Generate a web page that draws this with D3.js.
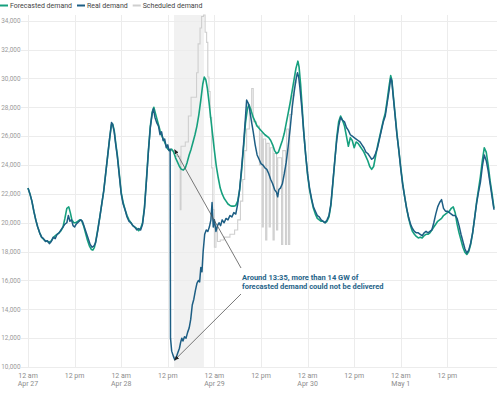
<!DOCTYPE html>
<html>
<head>
<meta charset="utf-8">
<script src="https://cdn.jsdelivr.net/npm/d3@7"></script>
<style>
  body { margin: 0; background: #fff; font-family: Roboto, "Open Sans", sans-serif; }
  svg text { font-family: Roboto, sans-serif; }
</style>
</head>
<body>
<svg id="chart" width="500" height="395"></svg>
<script>
// hours after Apr 27 00:00 -> MW
const startDate = new Date(2025, 3, 27);

const realDemand = [
  [0, 22400], [0.5, 22000], [1, 21500], [1.5, 20800], [2, 20200], [2.5, 19700], [3, 19300], [3.5, 19000],
  [4, 18900], [4.5, 18700], [5, 18750], [5.5, 18550], [6, 18700], [6.5, 19000], [7, 18900], [7.5, 19200],
  [8, 19300], [8.5, 19500], [9, 19700], [9.5, 19900], [10, 20000], [10.4, 20500], [10.8, 20100], [11.2, 20200],
  [11.6, 19800], [12, 19700], [12.4, 19900], [12.8, 20000], [13.2, 20100], [13.6, 20200], [14, 20100], [14.5, 19700],
  [15, 19300], [15.5, 18900], [16, 18500], [16.5, 18300], [17, 18400], [17.4, 18600], [18, 19500], [18.5, 20400],
  [19, 21300], [19.5, 22200], [20, 23400], [20.5, 24600], [21, 25800], [21.5, 26950], [21.8, 26800], [22.2, 26300],
  [22.6, 25400], [23, 24600], [23.5, 23300], [24, 22000], [24.5, 21300], [25, 20900], [25.5, 20400], [26, 20100],
  [26.5, 20000], [27, 19800], [27.5, 19700], [28, 19500], [28.5, 19600], [29, 19500], [29.5, 19900], [30, 21000],
  [30.5, 22900], [31, 24900], [31.5, 26600], [32, 27600], [32.3, 27900], [32.7, 27300], [33.2, 26900], [33.6, 26700],
  [34, 26100], [34.4, 26300], [34.8, 25700], [35.2, 25800], [35.6, 25200], [36, 25400], [36.3, 25000], [36.6, 25100],
  [36.7, 12000], [37, 11100], [37.5, 10700], [37.8, 10500], [38.2, 10700], [38.6, 11000], [39, 11300], [39.3, 11700],
  [39.6, 12000], [39.9, 11800], [40.3, 12100], [40.7, 12000], [41.1, 12400], [41.5, 12700], [41.9, 13300], [42.3, 14300],
  [42.7, 14700], [43.1, 15300], [43.5, 15800], [43.9, 16000], [44.2, 15900], [44.5, 16900], [44.8, 16600], [45.1, 18000],
  [45.5, 19200], [45.9, 19500], [46.3, 19400], [46.7, 19700], [47.1, 20200], [47.4, 21400], [47.7, 19700], [48, 20200],
  [48.4, 19400], [48.8, 19800], [49.2, 20000], [49.6, 19800], [50, 20200], [50.5, 20000], [51, 20300], [51.5, 20200],
  [52, 20500], [52.5, 20400], [53, 20700], [53.5, 20600], [54, 21300], [54.5, 22300], [55, 23800], [55.5, 25400],
  [56, 27300], [56.3, 28500], [56.7, 28300], [57.1, 27800], [57.5, 27100], [58, 26300], [58.5, 25400], [59, 24700],
  [59.5, 24400], [60, 24100], [60.5, 24000], [61, 23800], [61.5, 23700], [62, 23400], [62.5, 23000], [63, 22700],
  [63.5, 22300], [64, 22100], [64.3, 21800], [64.6, 22300], [65, 22400], [65.5, 22700], [66, 23400], [66.5, 24200],
  [67, 25300], [67.5, 26500], [68, 27900], [68.5, 29000], [69, 29900], [69.4, 30400], [69.7, 30100], [70, 29400],
  [70.5, 28000], [71, 26300], [71.5, 24700], [72, 23400], [72.5, 22400], [73, 21700], [73.5, 21100], [74, 20800],
  [74.5, 20500], [75, 20400], [75.5, 20200], [76, 20100], [76.5, 20000], [77, 20200], [77.5, 20500], [78, 21300],
  [78.5, 22800], [79, 24300], [79.5, 25700], [80, 26700], [80.5, 27300], [81, 27100], [81.5, 27000], [82, 26600],
  [82.5, 26400], [83, 26100], [83.5, 26000], [84, 25900], [84.5, 25800], [85, 25700], [85.5, 25600], [86, 25400],
  [86.5, 25200], [87, 24900], [87.5, 24800], [88, 24600], [88.5, 24400], [89, 24500], [89.5, 24800], [90, 25200],
  [90.5, 25800], [91, 26400], [91.5, 27000], [92, 27400], [92.5, 28300], [93, 29200], [93.4, 30000], [93.7, 29800],
  [94, 28900], [94.5, 27500], [95, 26100], [95.5, 25000], [96, 23700], [96.5, 22600], [97, 21800], [97.5, 21000],
  [98, 20400], [98.5, 19900], [99, 19600], [99.5, 19400], [100, 19300], [100.5, 19300], [101, 19200], [101.5, 19100],
  [102, 19300], [102.5, 19400], [103, 19300], [103.5, 19400], [104, 19500], [104.5, 20000], [105, 20600], [105.5, 21100],
  [106, 21400], [106.5, 21600], [107, 21000], [107.5, 20800], [108, 20800], [108.5, 20700], [109, 20600], [109.5, 20500],
  [110, 20500], [110.5, 20300], [111, 19800], [111.5, 19200], [112, 18700], [112.5, 18200], [113, 17900], [113.5, 18100],
  [114, 18600], [114.5, 19300], [115, 20300], [115.5, 21300], [116, 22100], [116.5, 22800], [117, 23900], [117.5, 24700],
  [118, 24300], [118.5, 23600], [119, 22700], [119.5, 21800], [120, 20900]
];

const forecastDemand = [
  [0, 22400], [0.5, 22000], [1, 21500], [1.5, 20800], [2, 20200], [2.5, 19700], [3, 19300], [3.5, 19000],
  [4, 18850], [4.5, 18750], [5, 18700], [5.5, 18650], [6, 18750], [6.5, 18950], [7, 19100], [7.5, 19200],
  [8, 19300], [8.5, 19450], [9, 19700], [9.5, 20300], [10, 21000], [10.5, 21100], [10.9, 20700], [11.3, 20200],
  [11.8, 20000], [12.3, 20000], [12.8, 20100], [13.3, 20200], [13.8, 20150], [14.3, 19800], [14.8, 19300], [15.3, 18800],
  [15.8, 18400], [16.3, 18150], [16.7, 18100], [17.1, 18300], [17.5, 18800], [18, 19600], [18.5, 20400], [19, 21300],
  [19.5, 22200], [20, 23400], [20.5, 24600], [21, 25800], [21.5, 26800], [21.8, 26850], [22.2, 26400], [22.6, 25500],
  [23, 24700], [23.5, 23400], [24, 22100], [24.5, 21400], [25, 20900], [25.5, 20500], [26, 20200], [26.5, 20000],
  [27, 19800], [27.5, 19700], [28, 19600], [28.5, 19450], [29, 19600], [29.5, 20000], [30, 21100], [30.5, 23000],
  [31, 25000], [31.5, 26700], [32, 27700], [32.4, 28000], [32.8, 27600], [33.2, 27200], [33.6, 26800], [34, 26400],
  [34.5, 26000], [35, 25700], [35.5, 25400], [36, 25100], [36.5, 25000], [37, 25100], [37.5, 24900], [38, 24500],
  [38.5, 24200], [39, 23900], [39.5, 23700], [40, 23650], [40.5, 23800], [41, 24200], [41.5, 24700], [42, 25100],
  [42.5, 25600], [43, 26100], [43.5, 26700], [44, 27500], [44.5, 28500], [45, 29600], [45.4, 30100], [45.8, 29900],
  [46.2, 29300], [46.6, 28400], [47, 27400], [47.5, 26200], [48, 25000], [48.5, 23900], [49, 23100], [49.5, 22400],
  [50, 22000], [50.5, 21700], [51, 21500], [51.5, 21300], [52, 21200], [52.5, 21150], [53, 21150], [53.5, 21200],
  [54, 21500], [54.5, 22300], [55, 23600], [55.5, 25200], [56, 26900], [56.5, 27900], [56.9, 28200], [57.3, 27900],
  [58, 27300], [59, 26700], [60, 26400], [61, 26100], [62, 25900], [62.5, 25700], [63, 25400], [63.5, 25000],
  [64, 24800], [64.5, 24900], [65, 25300], [65.5, 25700], [66, 26200], [66.5, 26900], [67, 27600], [67.5, 28300],
  [68, 29100], [68.5, 29900], [69, 30700], [69.5, 31200], [69.8, 30800], [70.2, 29600], [70.6, 28000], [71, 26300],
  [71.5, 24700], [72, 23300], [72.5, 22300], [73, 21600], [73.5, 21000], [74, 20600], [74.5, 20300], [75, 20200],
  [75.5, 20100], [76, 20100], [76.5, 20000], [77, 20100], [77.5, 20400], [78, 21200], [78.5, 22700], [79, 24300],
  [79.5, 25900], [80, 27000], [80.5, 27400], [81, 27100], [81.5, 26700], [82, 26000], [82.5, 25300], [83, 25900],
  [83.5, 25700], [84, 25200], [84.5, 25600], [85, 25500], [85.5, 25300], [86, 25100], [86.5, 24900], [87, 24600],
  [87.5, 24300], [88, 23900], [88.5, 23700], [89, 23900], [89.5, 24600], [90, 25300], [90.5, 25900], [91, 26500],
  [91.5, 27100], [92, 27600], [92.5, 28500], [93, 29500], [93.4, 30200], [93.7, 29900], [94, 29000], [94.5, 27600],
  [95, 26200], [95.5, 25000], [96, 23800], [96.5, 22700], [97, 21800], [97.5, 21000], [98, 20300], [98.5, 19800],
  [99, 19400], [99.5, 19200], [100, 19050], [100.5, 18950], [101, 19000], [101.5, 18950], [102, 19100], [102.5, 19200],
  [103, 19200], [103.5, 19300], [104, 19500], [104.5, 19700], [105, 19900], [105.5, 20100], [106, 20200], [106.5, 20300],
  [107, 20500], [107.5, 20600], [108, 20700], [108.5, 20800], [109, 21000], [109.5, 21100], [110, 20700], [110.5, 19900],
  [111, 19300], [111.5, 18800], [112, 18300], [112.5, 17950], [113, 17800], [113.5, 18000], [114, 18500], [114.5, 19300],
  [115, 20300], [115.5, 21400], [116, 22300], [116.5, 23200], [117, 24300], [117.5, 25200], [118, 24900], [118.5, 24000],
  [119, 22900], [119.5, 22000], [120, 21000]
];

// only the part that differs from the real line is visible
const scheduledDemand = [
  [36.6, 25000], [37.6, 24800], [38.2, 24600], [39.2, 20900], [39.4, 25300], [40.5, 25600], [41.3, 27400], [42, 28700],
  [43.4, 30400], [43.8, 32400], [44.3, 33500], [44.7, 34300], [45.2, 34400], [45.6, 33200], [46, 32500], [46.3, 30100],
  [46.6, 29100], [46.9, 27300], [47.3, 23800], [47.6, 20900], [48, 18300], [48.4, 19700], [48.8, 18700], [49.5, 18800],
  [50.5, 19000], [52, 19200], [53.2, 19500], [54, 20200], [54.7, 21500], [55.3, 23000], [55.8, 25000], [56.3, 26500],
  [57, 27800], [57.6, 29300], [58, 27000], [58.8, 26700], [59.6, 24000], [60, 26200], [60.3, 19700], [60.6, 25800],
  [61.2, 18800], [61.5, 25500], [62.1, 19700], [62.4, 25200], [63.1, 18800], [63.4, 24800], [64, 19500], [64.3, 24500],
  [65.3, 18500], [65.6, 25000], [66.3, 18500], [66.6, 26500], [67.1, 18500], [67.4, 27500], [68, 28800], [68.5, 29700],
  [69, 30300], [69.5, 30300]
];

const yTicks = [10000, 12000, 14000, 16000, 18000, 20000, 22000, 24000, 26000, 28000, 30000, 32000, 34000];
const xTickHours = [0, 12, 24, 36, 48, 60, 72, 84, 96, 108];
const outageWindow = [37.6, 45.3];
const legendItems = [
  { label: 'Forecasted demand', color: '#16a07e' },
  { label: 'Real demand', color: '#1d5e84' },
  { label: 'Scheduled demand', color: '#cfcfcf' }
];
const annotationLines = ['Around 13:35, more than 14 GW of', 'forecasted demand could not be delivered'];

const hourToDate = h => new Date(startDate.getTime() + h * 3600 * 1000);

const svg = d3.select('#chart');
const x = d3.scaleTime()
  .domain([startDate, hourToDate(120)])
  .range([28, 494]);
const y = d3.scaleLinear()
  .domain([10000, 34400])
  .range([367, 15]);

// outage shading
svg.append('rect')
  .attr('x', x(hourToDate(outageWindow[0])))
  .attr('y', y(34400))
  .attr('width', x(hourToDate(outageWindow[1])) - x(hourToDate(outageWindow[0])))
  .attr('height', y(10000) - y(34400))
  .attr('fill', '#f1f1f1');

// grid
svg.append('g').selectAll('line').data(yTicks)
  .join('line')
  .attr('x1', 21).attr('x2', 497)
  .attr('y1', d => Math.round(y(d)) + 0.5).attr('y2', d => Math.round(y(d)) + 0.5)
  .attr('stroke', '#ececec');

svg.append('g').selectAll('line').data(xTickHours)
  .join('line')
  .attr('x1', d => Math.round(x(hourToDate(d))) + 0.5).attr('x2', d => Math.round(x(hourToDate(d))) + 0.5)
  .attr('y1', y(34400)).attr('y2', y(10000))
  .attr('stroke', '#ececec');

// axis labels
svg.append('g').selectAll('text').data(yTicks)
  .join('text')
  .attr('x', 20.5)
  .attr('y', d => y(d))
  .attr('dy', '0.35em')
  .attr('text-anchor', 'end')
  .attr('font-size', 6.4)
  .attr('fill', '#9a9a9a')
  .text(d => d3.format(',')(d));

const fmtHour = d3.timeFormat('%-I %p');
const fmtDay = d3.timeFormat('%b %-d');
const xLabels = svg.append('g').selectAll('text').data(xTickHours)
  .join('text')
  .attr('text-anchor', 'middle')
  .attr('font-size', 7)
  .attr('fill', '#8c8c8c');
xLabels.append('tspan')
  .attr('x', d => x(hourToDate(d)))
  .attr('y', 377.5)
  .text(d => fmtHour(hourToDate(d)).toLowerCase());
xLabels.filter(d => d % 24 === 0).append('tspan')
  .attr('x', d => x(hourToDate(d)))
  .attr('y', 386)
  .text(d => fmtDay(hourToDate(d)));

// lines
const line = d3.line()
  .x(d => x(hourToDate(d[0])))
  .y(d => y(d[1]));

svg.append('path')
  .datum(scheduledDemand)
  .attr('fill', 'none')
  .attr('stroke', legendItems[2].color)
  .attr('stroke-width', 1.1)
  .attr('d', line.curve(d3.curveStepAfter));

line.curve(d3.curveLinear);

svg.append('path')
  .datum(forecastDemand)
  .attr('fill', 'none')
  .attr('stroke', legendItems[0].color)
  .attr('stroke-width', 1.6)
  .attr('stroke-linejoin', 'round')
  .attr('d', line);

svg.append('path')
  .datum(realDemand)
  .attr('fill', 'none')
  .attr('stroke', legendItems[1].color)
  .attr('stroke-width', 1.5)
  .attr('stroke-linejoin', 'round')
  .attr('d', line);

// legend
let lx = 0;
const legend = svg.append('g');
legendItems.forEach(item => {
  legend.append('line')
    .attr('x1', lx).attr('x2', lx + 8)
    .attr('y1', 5.5).attr('y2', 5.5)
    .attr('stroke', item.color)
    .attr('stroke-width', 2);
  const t = legend.append('text')
    .attr('x', lx + 10)
    .attr('y', 5.5)
    .attr('dy', '0.35em')
    .attr('font-size', 7)
    .attr('fill', '#444')
    .text(item.label);
  lx += 10 + t.node().getComputedTextLength() + 5;
});

// annotation
svg.append('defs').append('marker')
  .attr('id', 'arrow')
  .attr('viewBox', '0 0 10 10')
  .attr('refX', 9).attr('refY', 5)
  .attr('markerWidth', 6).attr('markerHeight', 6)
  .attr('orient', 'auto')
  .append('path')
  .attr('d', 'M0,1 L10,5 L0,9 z')
  .attr('fill', '#222');

const arrowTargets = [[37.5, 25000], [37.5, 10550]];
const arrowStarts = [[241, 268], [241, 294]];
svg.append('g').selectAll('line').data(arrowTargets)
  .join('line')
  .attr('x1', (d, i) => arrowStarts[i][0])
  .attr('y1', (d, i) => arrowStarts[i][1])
  .attr('x2', d => x(hourToDate(d[0])) + 1)
  .attr('y2', (d, i) => y(d[1]) + (i ? 1 : -1))
  .attr('stroke', '#555')
  .attr('stroke-width', 0.8)
  .attr('marker-end', 'url(#arrow)');

svg.append('g').selectAll('text').data(annotationLines)
  .join('text')
  .attr('x', 242)
  .attr('y', (d, i) => 279.5 + i * 9.5)
  .attr('font-size', 7.5)
  .attr('font-weight', 700)
  .attr('fill', '#1f6489')
  .text(d => d);
</script>
</body>
</html>
